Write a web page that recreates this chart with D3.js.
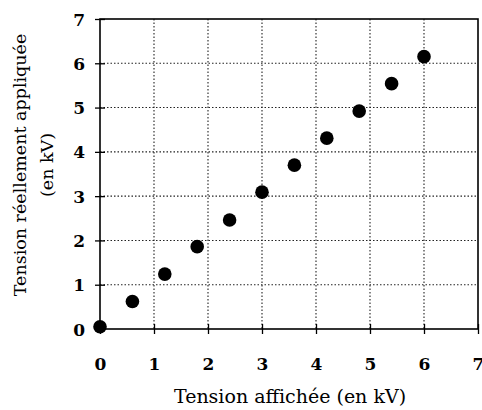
<!DOCTYPE html>
<html>
<head>
<meta charset="utf-8">
<script src="https://cdn.jsdelivr.net/npm/d3@7"></script>
<style>
  body { margin: 0; background: #fff; }
  svg { display: block; }
  .tick text { font-family: "DejaVu Serif", "Liberation Serif", serif; font-weight: bold; }
</style>
</head>
<body>
<div id="chart"></div>
<script>
// --- data ---
var affichee = [0, 0.6, 1.2, 1.8, 2.4, 3.0, 3.6, 4.2, 4.8, 5.4, 6.0];
var appliquee = [0.05, 0.62, 1.24, 1.86, 2.46, 3.09, 3.70, 4.31, 4.92, 5.54, 6.15];
var xTicks = [0, 1, 2, 3, 4, 5, 6, 7];
var yTicks = [0, 1, 2, 3, 4, 5, 6, 7];

var width = 482, height = 410;
var svg = d3.select("#chart").append("svg")
  .attr("width", width).attr("height", height);

var x = d3.scaleLinear().domain([0, 7]).range([100, 478]);
var y = d3.scaleLinear().domain([0, 7]).range([329, 19]);

// dotted grid
svg.append("g").selectAll("line.vg")
  .data(xTicks.slice(1, -1)).enter().append("line")
  .attr("x1", d => x(d)).attr("x2", d => x(d))
  .attr("y1", y(7)).attr("y2", y(0))
  .attr("stroke", "#222").attr("stroke-width", 1.1)
  .attr("stroke-dasharray", "1.5,2");
svg.append("g").selectAll("line.hg")
  .data(yTicks.slice(1, -1)).enter().append("line")
  .attr("x1", x(0)).attr("x2", x(7))
  .attr("y1", d => y(d)).attr("y2", d => y(d))
  .attr("stroke", "#222").attr("stroke-width", 1.1)
  .attr("stroke-dasharray", "1.5,2");

// frame
svg.append("rect")
  .attr("x", x(0)).attr("y", y(7))
  .attr("width", x(7) - x(0)).attr("height", y(0) - y(7))
  .attr("fill", "none").attr("stroke", "#000").attr("stroke-width", 1.6);

// axes (ticks cross the axis line)
var xAxis = svg.append("g")
  .attr("transform", "translate(0," + y(0) + ")")
  .call(d3.axisBottom(x).tickValues(xTicks).tickSize(5).tickPadding(24).tickFormat(d3.format("d")));
xAxis.select(".domain").remove();
xAxis.selectAll(".tick line").attr("y1", -5).attr("stroke-width", 1.3);
xAxis.selectAll(".tick text").attr("font-size", 17).attr("fill", "#000");

var yAxis = svg.append("g")
  .attr("transform", "translate(" + x(0) + ",0)")
  .call(d3.axisLeft(y).tickValues(yTicks).tickSize(5).tickPadding(10).tickFormat(d3.format("d")));
yAxis.select(".domain").remove();
yAxis.selectAll(".tick line").attr("x1", 5).attr("stroke-width", 1.3);
yAxis.selectAll(".tick text").attr("font-size", 17).attr("fill", "#000").attr("dy", "0.36em");

// points
svg.append("g").selectAll("circle")
  .data(affichee).enter().append("circle")
  .attr("cx", d => x(d))
  .attr("cy", (d, i) => y(appliquee[i]))
  .attr("r", 6.8)
  .attr("fill", "#000");

// axis titles
svg.append("text")
  .attr("x", 290).attr("y", 403)
  .attr("text-anchor", "middle")
  .attr("font-family", "DejaVu Serif, Liberation Serif, serif")
  .attr("font-size", 19)
  .text("Tension affichée (en kV)");

var yl = svg.append("text")
  .attr("transform", "translate(0,165) rotate(-90)")
  .attr("text-anchor", "middle")
  .attr("font-family", "DejaVu Serif, Liberation Serif, serif")
  .attr("font-size", 17.5);
yl.append("tspan").attr("x", 0).attr("y", 26).text("Tension réellement appliquée");
yl.append("tspan").attr("x", 0).attr("y", 53).text("(en kV)");
</script>
</body>
</html>
